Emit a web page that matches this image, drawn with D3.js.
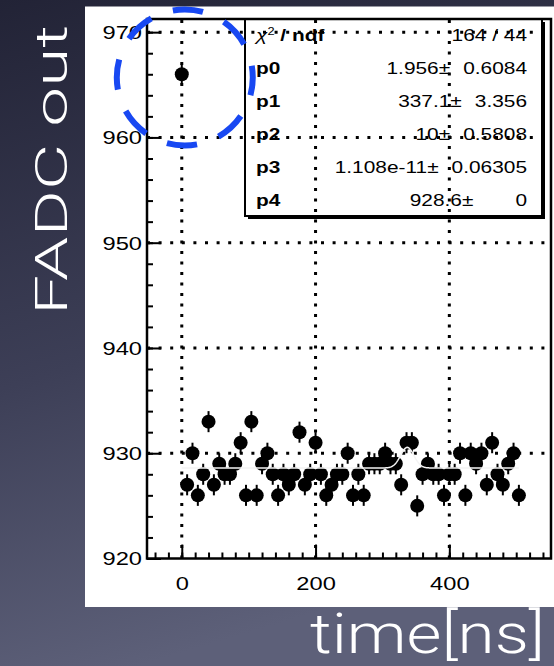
<!DOCTYPE html>
<html>
<head>
<meta charset="utf-8">
<script src="https://cdn.jsdelivr.net/npm/d3@7"></script>
<style>
  html, body { margin: 0; padding: 0; background: #2b2d42; }
  svg { display: block; }
</style>
</head>
<body>
<svg id="chart" width="554" height="666"></svg>
<script>
// FADC samples: time (ns) and ADC reading
const times = [0, 8, 16, 24, 32, 40, 48, 56, 64, 72, 80, 88, 96, 104, 112, 120,
  128, 136, 144, 152, 160, 168, 176, 184, 192, 200, 208, 216, 224, 232, 240, 248,
  256, 264, 272, 280, 288, 296, 304, 312, 320, 328, 336, 344, 352, 360, 368, 376,
  384, 392, 400, 408, 416, 424, 432, 440, 448, 456, 464, 472, 480, 488, 496, 504];
const adc = [966, 927, 930, 926, 928, 933, 927, 929, 928, 928, 929, 931, 926, 933, 926, 929,
  930, 928, 926, 928, 927, 928, 932, 927, 928, 931, 928, 926, 927, 928, 928, 930,
  926, 928, 926, 929, 929, 929, 930, 929, 929, 927, 931, 931, 925, 928, 929, 928,
  928, 926, 928, 928, 930, 926, 930, 929, 930, 927, 931, 928, 927, 929, 930, 926];
const adcError = 1;

// Axis ticks
const yTicks = [920, 930, 940, 950, 960, 970];
const xTicks = [0, 200, 400];

// Fit results shown in the statistics box
const chi2 = "164";
const ndf = "44";
const parNames = ["p0", "p1", "p2", "p3", "p4"];
const parValues = ["1.956", "337.1", "10", "1.108e-11", "928.6"];
const parErrors = ["0.6084", "3.356", "0.5808", "0.06305", "0"];
const fitPars = [1.956, 337.1, 10, 1.108e-11, 928.6];

// ---------------------------------------------------------------------------
const svg = d3.select("#chart");
const W = 554, H = 666;
const STRETCH = 1.28;                 // horizontal stretch of the plot lettering
const FONT = "'Liberation Sans', Arial, Helvetica, sans-serif";

// slide background
const defs = svg.append("defs");
const grad = defs.append("linearGradient").attr("id", "bg")
  .attr("x1", 0).attr("y1", 0).attr("x2", 0.25).attr("y2", 1);
grad.append("stop").attr("offset", "0%").attr("stop-color", "#222336");
grad.append("stop").attr("offset", "55%").attr("stop-color", "#3d3f57");
grad.append("stop").attr("offset", "100%").attr("stop-color", "#5d6079");
svg.append("rect").attr("width", W).attr("height", H).attr("fill", "url(#bg)");

// white canvas holding the plot
svg.append("rect").attr("x", 85).attr("y", 6.5).attr("width", W - 85).attr("height", 600.5)
  .attr("fill", "#ffffff");

// frame and scales
const frame = { left: 147, top: 19, right: 551, bottom: 558.5 };
const x = d3.scaleLinear().domain([-52, 552]).range([frame.left, frame.right]);
const y = d3.scaleLinear().domain([920, 971.25]).range([frame.bottom, frame.top]);

const plot = svg.append("g");

// dotted grid
plot.append("g").selectAll("line").data(yTicks.filter(v => v > 920)).join("line")
  .attr("x1", frame.left).attr("x2", frame.right)
  .attr("y1", d => y(d)).attr("y2", d => y(d))
  .attr("stroke", "#000").attr("stroke-width", 3).attr("stroke-dasharray", "3 8.6");
plot.append("g").selectAll("line").data(xTicks).join("line")
  .attr("x1", d => x(d)).attr("x2", d => x(d))
  .attr("y1", frame.bottom).attr("y2", frame.top)
  .attr("stroke", "#000").attr("stroke-width", 3).attr("stroke-dasharray", "3 7.5");

// axes: ticks point into the frame
const yMinor = d3.axisLeft(y).tickValues(d3.range(920, 971.25, 2)).tickSize(-6).tickFormat("");
const yMajor = d3.axisLeft(y).tickValues(yTicks).tickSize(-14).tickPadding(0);
const xMinor = d3.axisBottom(x).tickValues(d3.range(-40, 552, 20)).tickSize(-6).tickFormat("");
const xMajor = d3.axisBottom(x).tickValues(xTicks).tickSize(-14).tickPadding(0);

function styleAxis(g) {
  g.select(".domain").remove();
  g.selectAll("line").attr("stroke", "#000").attr("stroke-width", 2);
  g.selectAll("text").attr("fill", "#000").style("font-family", FONT).style("font-size", "18.5px");
}

plot.append("g").attr("transform", `translate(${frame.left},0)`).call(yMinor).call(styleAxis);
const gy = plot.append("g").attr("transform", `translate(${frame.left},0)`).call(yMajor).call(styleAxis);
gy.selectAll("text").attr("x", null).attr("dy", "0.35em")
  .attr("transform", `translate(-5,0) scale(${STRETCH},1)`);

plot.append("g").attr("transform", `translate(0,${frame.bottom})`).call(xMinor).call(styleAxis);
const gx = plot.append("g").attr("transform", `translate(0,${frame.bottom})`).call(xMajor).call(styleAxis);
gx.selectAll("text").attr("y", null).attr("dy", "0.71em")
  .attr("transform", `translate(0,18) scale(${STRETCH},1)`);

// frame border
plot.append("rect")
  .attr("x", frame.left).attr("y", frame.top)
  .attr("width", frame.right - frame.left).attr("height", frame.bottom - frame.top)
  .attr("fill", "none").attr("stroke", "#000").attr("stroke-width", 2.5);

// data points with error bars
const pts = plot.append("g").selectAll("g").data(times.map((t, i) => ({ t, v: adc[i] }))).join("g");
pts.append("line")
  .attr("x1", d => x(d.t)).attr("x2", d => x(d.t))
  .attr("y1", d => y(d.v - adcError)).attr("y2", d => y(d.v + adcError))
  .attr("stroke", "#000").attr("stroke-width", 2);
pts.append("circle")
  .attr("cx", d => x(d.t)).attr("cy", d => y(d.v)).attr("r", 7).attr("fill", "#000");

// fitted function (light line, shows only where it crosses the markers)
const [p0, p1, p2, p3, p4] = fitPars;
const fitFn = t => p4 + p0 * Math.exp(-0.5 * ((t - p1) / p2) ** 2) + p3 * t;
const fitLine = d3.line().x(d => x(d)).y(d => y(fitFn(d)));
plot.append("path")
  .attr("d", fitLine(d3.range(0, 504.5, 1)))
  .attr("fill", "none").attr("stroke", "#f4f4f4").attr("stroke-width", 1.5);

// statistics box
const box = { x0: 245, y0: 19, x1: 542, y1: 216 };
const rowH = (box.y1 - box.y0) / 6;
const stats = plot.append("g").style("font-family", FONT).style("font-size", "16.3px");
stats.append("line").attr("x1", box.x1 + 1.5).attr("x2", box.x1 + 1.5)
  .attr("y1", box.y0 + 3).attr("y2", box.y1 + 3).attr("stroke", "#000").attr("stroke-width", 3);
stats.append("line").attr("x1", box.x0 + 3).attr("x2", box.x1 + 3)
  .attr("y1", box.y1 + 1.5).attr("y2", box.y1 + 1.5).attr("stroke", "#000").attr("stroke-width", 3);
stats.append("rect").attr("x", box.x0).attr("y", box.y0)
  .attr("width", box.x1 - box.x0).attr("height", box.y1 - box.y0)
  .attr("fill", "none").attr("stroke", "#000").attr("stroke-width", 2);

const labelX = box.x0 + 11;
const rightX = box.x1 - 15;
const rowBase = i => box.y0 + rowH * (i + 0.5) + 6;

function sText(xp, yp, str, anchor) {
  return stats.append("text")
    .attr("transform", `translate(${xp},${yp}) scale(${STRETCH},1)`)
    .attr("text-anchor", anchor).attr("fill", "#000").text(str);
}

// chi-square row
const chiLabel = stats.append("text")
  .attr("transform", `translate(${labelX},${rowBase(0)}) scale(${STRETCH},1)`)
  .attr("fill", "#000");
chiLabel.append("tspan").style("font-style", "italic").text("χ");
chiLabel.append("tspan").attr("dy", -6).style("font-size", "10px").text("2");
chiLabel.append("tspan").attr("dy", 6).style("font-weight", "bold").text(" / ndf");
sText(rightX, rowBase(0), `${chi2} / ${ndf}`, "end");

// parameter rows: name, value ± error
const minErrWidth = (() => {
  const t = sText(0, 0, "0.00", "start");
  const w = t.node().getComputedTextLength();
  t.remove();
  return w;
})();
parNames.forEach((name, i) => {
  const base = rowBase(i + 1);
  sText(labelX, base, name, "start").style("font-weight", "bold");
  const errT = sText(rightX, base, parErrors[i], "end");
  const errW = Math.max(errT.node().getComputedTextLength(), minErrWidth) * STRETCH;
  const pmX = rightX - errW - 13;
  const pmT = sText(pmX, base, "±", "end");
  const pmW = pmT.node().getComputedTextLength() * STRETCH;
  sText(pmX - pmW, base, parValues[i], "end");
});

// slide annotations
svg.append("text")
  .attr("transform", "translate(67,170) rotate(-90)")
  .attr("text-anchor", "middle")
  .attr("fill", "#ffffff")
  .style("font-family", "Roboto, 'Open Sans', Lato, sans-serif")
  .style("font-weight", 300).style("font-size", "45px")
  .attr("textLength", 290).attr("lengthAdjust", "spacingAndGlyphs")
  .text("FADC out");

svg.append("text")
  .attr("x", 310).attr("y", 653)
  .attr("fill", "#ffffff")
  .style("font-family", "Roboto, 'Open Sans', Lato, sans-serif")
  .style("font-weight", 300).style("font-size", "55px")
  .attr("textLength", 235).attr("lengthAdjust", "spacingAndGlyphs")
  .text("time[ns]");

// highlight around the first sample
const hr = 68;
const circ = 2 * Math.PI * hr;
svg.append("circle")
  .attr("cx", x(times[0]) + 3).attr("cy", 77.5).attr("r", hr)
  .attr("fill", "none").attr("stroke", "#1848f2").attr("stroke-width", 6)
  .attr("stroke-dasharray", `${circ / 8 * 0.57} ${circ / 8 * 0.43}`)
  .attr("stroke-dashoffset", 12.5);
</script>
</body>
</html>
